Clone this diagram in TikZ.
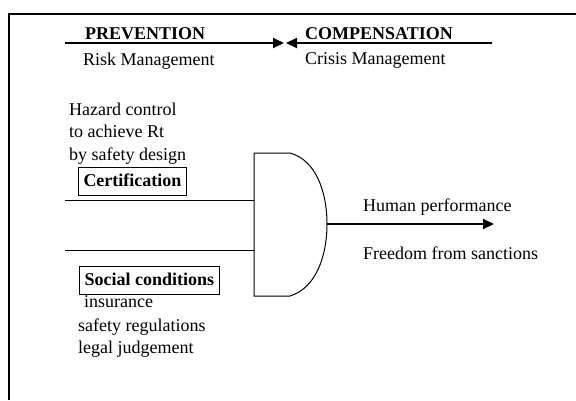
\documentclass[tikz,border=0pt]{standalone}
\usepackage{fontspec}
\setmainfont{Liberation Serif}
\usetikzlibrary{arrows.meta}
\begin{document}
\begin{tikzpicture}[x=1pt,y=-1pt,
    txt/.style={anchor=base west,inner sep=0pt,font=\fontsize{18pt}{22pt}\selectfont},
    hdr/.style={txt,font=\fontsize{18pt}{22pt}\selectfont\bfseries},
    tag/.style={anchor=base west,draw,line width=1pt,inner xsep=5pt,inner ysep=5pt,
      text height=14pt,text depth=4pt,font=\fontsize{18pt}{22pt}\selectfont\bfseries},
    thick line/.style={line width=2pt},
    tip/.style={-{Triangle[length=11pt,width=10pt]}}]
  \useasboundingbox (0,0) rectangle (576,400);
  % frame
  \draw[line width=1.5pt] (9,400) -- (9,14) -- (576,14);
  % headings
  \draw
    (85,39) node[hdr] (prev){PREVENTION}
    (83,65) node[txt] (risk){Risk Management}
    (305,39) node[hdr] (comp){COMPENSATION}
    (305,64) node[txt] (crisis){Crisis Management};
  \coordinate (pl) at (65,43);
  \coordinate (pm) at (284,43);
  \coordinate (pmr) at (286,43);
  \coordinate (pr) at (492,43);
  \draw[thick line,tip] (pl) -- (pm);
  \draw[thick line,tip] (pr) -- (pmr);
  % left texts
  \draw
    (69,115) node[txt] (haz1){Hazard control}
    (69,137) node[txt] (haz2){to achieve Rt}
    (69,160) node[txt] (haz3){by safety design}
    (78,186) node[tag] (cert){Certification}
    (79,285) node[tag] (soc){Social conditions}
    (84,307) node[txt] (ins){insurance}
    (78,331) node[txt] (reg){safety regulations}
    (78,353) node[txt] (leg){legal judgement};
  % gate
  \coordinate (gtl) at (254,153);
  \coordinate (gbl) at (254,296);
  \coordinate (gt) at (290,153);
  \coordinate (gb) at (290,296);
  \coordinate (gout) at (327,224);
  \draw[line width=1pt] (gt) -- (gtl) -- (gbl) -- (gb)
    .. controls (316,288) and (327,256) .. (gout)
    .. controls (327,192) and (316,160) .. (gt);
  % inputs
  \coordinate (in1) at (65,200);
  \coordinate (in2) at (65,250);
  \coordinate (g1) at (254,200);
  \coordinate (g2) at (254,250);
  \begin{scope}[line width=1pt]
    \draw (in1) -- (g1);
    \draw (in2) -- (g2);
  \end{scope}
  % output
  \coordinate (out) at (494,224);
  \draw[thick line,tip] (gout) -- (out);
  \draw
    (363,211) node[txt] (hum){Human performance}
    (363,259) node[txt] (free){Freedom from sanctions};
\end{tikzpicture}
\end{document}
